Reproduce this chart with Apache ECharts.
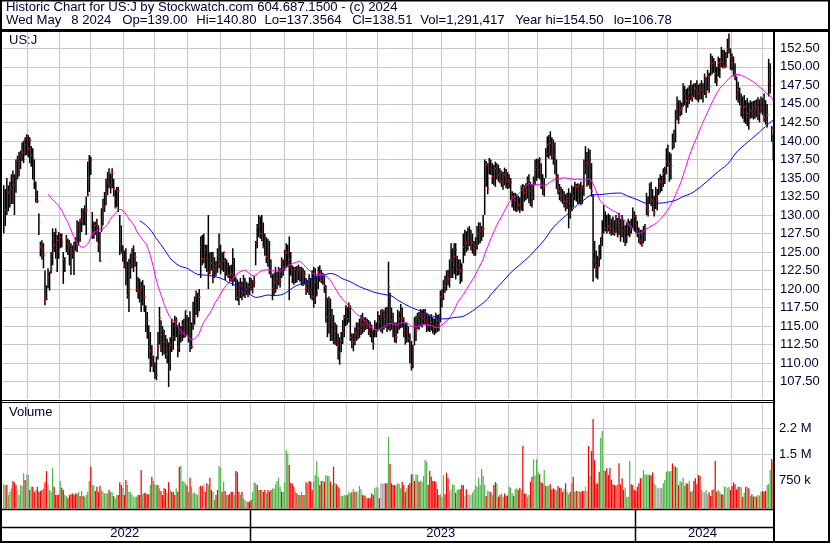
<!DOCTYPE html>
<html><head><meta charset="utf-8">
<script src="https://cdn.jsdelivr.net/npm/echarts@6/dist/echarts.min.js"></script>
<style>html,body{margin:0;padding:0;background:#fff}#c{width:830px;height:543px}</style>
</head><body><div id="c"></div>
<script>
// ---- data (daily bars, May 2022 - May 8 2024) ----
const highs = [
134,133.5,135,134,134.5,135.5,136,135.5,137.5,138,
138.5,138.7,139.8,140,140.5,140.9,140.8,140.5,139.3,139,
137.5,134.5,133.3,130.2,126.4,126.6,126.2,122.5,120.5,122.8,
122.3,125,128.2,127.7,128.2,127.3,127.7,127.5,127.5,125,
124.3,127.3,126.8,126.6,126.2,125.9,126.4,127,129.3,129.1,
129.5,130.9,130.9,131.3,132.5,137.2,138.1,137.9,130.4,129.1,
129.1,129.5,128.6,127.7,130.9,132.2,133.1,134.9,135.8,136.3,
135.6,136.3,134.9,133.4,133.8,133.8,130,128.6,125.9,125.2,
125.5,123.7,124.1,124.8,125.5,125.9,125,123.7,121.6,121.4,
121,121.2,120.5,117.8,116.9,115.1,114.2,112.4,111,110.1,
110.9,114.2,117.6,115.8,115,114.5,113.8,113.3,112.8,113.5,
116,115.5,116.4,116.2,115.2,115.5,115,115.8,116,117.1,
116.5,116.2,117,115.5,118.3,119,119.8,119.5,120,127.1,
127.3,127.5,126,126,130,125,125,125,124.3,123.8,
125.5,127.5,126,125,125,124.2,124,123.6,123.2,123.3,
125.5,124.2,121.6,121.3,121,121.5,121,121.9,121.5,121,
120.8,121.6,121.5,121.2,121.8,126.5,128.8,130,129.8,130,
129,127.5,127,126.8,126.5,124,122,122.2,123,122.3,
123,122.8,124.3,124,125.3,126.2,126,127.1,125,123.2,
123,123,123.1,123.3,123,123,122.8,122.5,121.5,121.2,
122,121.5,122.5,123,122.8,121.8,123,123.2,122.6,122.2,
121.8,120.5,118.8,119,118.7,117.3,116.5,115.5,115.2,114,
113.5,114.2,115.8,116.5,117.8,117.6,118.2,117.8,114,114,
114.8,115.5,115.5,116,116.5,116.8,116.2,116.2,116,115.8,
115.6,115.2,114.5,115.8,115.5,117,116.5,117.2,117.3,117.1,
117.5,117.6,123.7,119.5,117.5,116.8,115.5,115.5,117.2,117,
118,117.5,116.2,115.5,115.5,115,114,113,112.5,116.2,
116.4,116.8,116.9,117.3,117.2,117.3,117.3,116.8,116.5,116.4,
116.6,116.2,116,116.8,116.5,116.6,119.8,120,121.2,121.8,
122.5,122.6,124,126.2,125.5,126.2,126.2,124.5,124,124,
123.5,127.5,128,127.8,128.3,128.5,128,127.5,126.5,127,
128.5,129,129,128.5,130,137.5,137.3,137,137.7,137.5,
137,136.8,137.2,137,136.8,136.3,136,135.8,136.4,136.2,
135.8,135.5,135,133.2,133,133,132.8,132.6,132.4,134,
134.2,134,134.3,135.2,135.5,134.5,134.2,135.2,137.5,137.6,
137.6,137.8,137,135.5,135,139,140.6,140.8,141.3,140.5,
140.2,139.8,137.5,135.5,134.2,133.8,133.5,133.2,132.8,133,
133.6,133,134,133.8,134.5,134.2,134.3,134.2,134.5,134,
137.5,139.3,138.5,139,138.8,137,132.8,126.5,125.2,124.5,
126,127,129.3,131.3,130.5,130,130.2,130,129.5,129.8,
129.3,130,129.6,130.3,129.5,130,129.3,128.6,129,129.5,
129.2,129.5,131,130.5,130,129.2,128.3,128,128,128.5,
128.8,133,132.5,134.3,134.5,133.5,132.6,133.8,133.5,135,
135.5,135.3,136.3,136.5,139,139.5,138.5,138.3,141,141.5,
144.2,146,145.5,145.5,145.2,147.8,147.4,147,147.2,147.5,
148.2,147.6,147.8,147.8,148.2,147.6,147.8,148.2,147.8,149.1,
148.6,149.6,149.2,151.8,151.5,151.2,150.8,150,151.4,151.2,
152.7,152.3,152.3,152,153.8,154.5,152.5,151.8,151.4,150.5,
148.7,148,147.2,146.4,146,146.2,145.5,145.8,145.2,145.5,
145.3,145.4,145.5,145.6,145.9,145.6,146,145.8,146.4,145.5,
145,151.1,150.5,142,140.8];
const lows = [
127.5,128.5,130,130.5,131,131.5,131.5,130,133,134.8,
135.2,136.2,137.3,137,138,138.1,137.8,137,136.5,134.8,
133.5,131.7,131.6,127.3,124.4,124,122.8,117.8,118.5,120.1,
119.8,122.1,123.2,125,124.1,122.3,124.1,125.5,125.6,120.7,
122.3,125,124.6,123.2,121.9,124.1,121.9,125.2,125,125.9,
126.4,127.7,128.6,128.6,127.3,132.5,133.1,135.4,126.8,126.8,
127.3,126.4,125,123.7,127.7,128.6,130.4,131.3,132.7,133.6,
132.9,133.6,132.5,130.9,131.1,130.4,124.6,124.8,123.7,122.8,
120.5,118.7,116.9,121.4,122.8,122.3,123,119.6,118.7,118.2,
116.9,117.8,116.9,114.2,113.3,110.6,108.8,109.5,108.8,107.9,
107.7,110.5,112.5,111.5,111,111.2,110.6,110,106.78,109,
111.5,111.8,113,113.5,110.8,111.5,112.8,113,113.4,113.5,
113.8,112.8,111.5,111.9,114.5,115.2,116.5,116.2,117,121.5,
123.2,123.5,122.8,122.3,120,122,122.5,120.8,121.5,121.8,
122.2,122.8,122,122.5,122.3,121.2,121.8,121.5,121,121,
120.4,121,118.5,118.4,117.8,118.8,118.5,119,118.8,119.2,
118.9,119.2,119.8,119.4,120.2,123.2,125.5,127,126.8,126.5,
125.5,124.5,123.5,123,122,121.5,118.5,119.2,119.5,120,
120.5,120.2,121.5,121.8,122.5,122.8,123,118.5,121.8,120.8,
120.6,120.8,120.9,121.2,121,120.5,120.4,120.6,119.2,119.5,
119.2,118.7,118.5,117.5,118,119,120,121,120.8,120.6,
119.5,115.5,113.5,114,113,113,112.6,112.5,112.3,110.5,
109.8,111.5,112.6,113.5,115,115.2,115.5,113,112,111.6,
112.4,113,113.2,113.4,113.8,114,114.2,114.5,114.6,113.8,
113.5,112.8,111.8,113.5,113.5,114.3,114.5,114.2,114,114.5,
114.8,114.2,114.5,114.3,114.5,113.5,112.8,112.7,114,114.5,
114.7,114.8,113.5,112.5,112.8,112.8,110,109,109.3,112.4,
113,114.6,114.5,115,114.8,115.2,115.1,114.2,114.3,114.2,
114.4,114,113.8,114,114.2,114.3,115.5,117.5,118.5,119.5,
119.8,120.5,120.2,121.5,121.5,122,121.3,121.8,121.9,120.7,
121,123.5,124.5,125,125.2,125.8,125.2,124.8,124.5,124.5,
125.3,126,126.2,126.5,127,130,133.8,132.8,135.5,135.4,
134.2,134,133.8,134.8,134.5,134.3,133.8,133.4,134,133.6,
133.5,133.6,132,131,130.6,130.5,130.4,130.6,130.3,130.6,
130.5,131.8,132,132.2,131.6,131.2,131,132,134,134.6,
135,134.8,133.5,132.7,132.5,135,137.8,137.6,138,137.5,
136.8,135.5,133.5,132.8,132,131.8,131.5,131,130.5,130.8,
128.2,129.5,130.5,131,132,131.8,131.5,131.5,131.3,131.5,
132.6,135.5,133.8,134,133.5,132.5,121,122.8,121.5,121.3,
123,124,125.8,127.5,127.8,127.5,127.8,127.4,127.2,127.3,
127.2,127.6,127,127.3,126.4,127,126.3,125.8,126.2,127.2,
127,127.5,128.2,127.8,127.5,127,126.2,126,125.7,126.2,
126.5,130,129.8,131.5,131.2,130.5,129.8,130.8,130.6,132.7,
133,133.2,133.8,134.2,135.5,136.5,134.5,134.8,138.8,139,
139.8,142.8,142.3,143.3,143.5,144.6,144.8,143.8,144.5,145,
145.5,145.3,145.9,145.6,145.5,145.2,145.6,145.6,145.2,146.2,
145.8,146.8,146.5,148.8,149,149.2,147.8,147.4,148.7,148.5,
150,149.8,149.8,149.9,151.2,151.8,149.6,149.5,148.7,148.2,
145.5,145.2,144.8,143.3,143,142.5,142.3,142,141.5,143,
143.1,142.9,143,143.2,142.8,142.5,143.8,143.5,142.6,142.2,
141.8,146,146.4,139.9,137.36];
const closes = [
130.2,130.7,131,133.1,132,133.5,135,134,135.8,137.4,
137.1,138,138.5,140,139.5,140.6,139,140.1,138.1,137.7,
134.5,132.5,131.9,128.9,125.7,125.5,124.6,119.1,118.7,121.6,
122.3,122.8,125.5,125.9,127.7,126.6,126.5,127,126.4,124,
123.5,126.8,126.2,125.9,125,124.8,125.9,125.2,128.6,128.2,
129.3,130,130.7,130.2,130.7,132.7,135,137.4,127.7,128.9,
128.6,128.7,126,123.8,128.5,131,131.3,133.1,134.5,135.8,
134,135.8,133.7,131,132.2,133.3,126.6,125,124.3,123.2,
121.5,119.2,120,123.2,123.5,125.3,124.3,120,119.8,119.5,
120.2,120.4,119,116.1,115.8,114,111.7,110.4,109.7,108.3,
108.4,112.2,116.1,113.8,114.5,112.9,112,111.2,109.5,112.4,
115.8,113.5,114.9,115.8,112.2,114,114.4,115.1,114.3,117.1,
115.3,114,113.3,112.2,115.1,116.2,119.4,116.9,118.9,125.7,
124.1,124.8,125.3,124.1,122.3,122.8,123.5,123.7,122.6,123.2,
124.6,125,123.4,123.8,125,122.3,122.8,121.9,121.5,122.1,
121.9,121.7,119.5,118.9,119.8,120.5,119.6,121.2,120.1,119.9,
119.2,120.3,120.1,120.6,121,126.2,128.4,128.9,127.5,127.5,
125.7,126.2,124.4,125.2,122.6,122.1,120.1,120.8,121,121.4,
122.6,121.2,123.7,123,123.8,125,124.8,124,123,122.6,
121.4,122.6,122.1,122.6,122.4,122.6,121.9,122,120.1,120.8,
121.2,119.9,118.9,120.5,121,119.4,122.3,121.9,121.2,121.7,
120.5,118.8,116.2,118.7,116.2,115.3,113,114.3,112.9,112.4,
111.5,113,114.4,116.2,117.6,116,117.5,113.5,113.5,112.9,
114.4,114,115.1,114.7,115.8,115.3,115.2,115.1,114.9,114.4,
114.9,114,112.6,114.9,114.5,116.2,115.5,116.6,117.1,116.5,
116,116.4,120.3,116.5,115.8,115.3,114,113.6,114.9,116,
116.9,116,114.3,113.1,114.2,113.4,110.8,109.7,111.8,115.1,
114.4,116.2,116.5,116.7,116,116.5,116.7,115.8,115.1,115.1,
115.5,115.1,114.9,115.2,115.8,115.1,119,119.4,121.2,120.5,
121.2,121.4,122.6,123.9,122.6,124.4,125.3,122.6,123.3,122.6,
122.6,125.7,126.2,126.2,126.6,127,125.5,126.2,125.5,125.9,
127.5,127.3,127.9,127.3,128.2,134.5,136.8,133.6,137.2,136.3,
135.2,136.1,136.3,136.5,135.4,134.7,135.7,134.4,135.5,134.7,
135.2,134.7,134.4,132.5,131.8,132,130.9,131.4,131.2,133.8,
132.3,133,133.3,134.6,134.3,133.2,132.3,134.5,136.1,136.5,
136.1,137.5,134.3,133.2,133.8,138.5,139.5,138.4,139.7,138.2,
139.5,137.3,135.2,133.8,133.2,132.5,132.8,131.9,131.1,131.8,
132.3,130.7,133.4,132.5,134.1,133.9,133.4,134.1,133.6,133.9,
137,136.1,137.2,137,134.5,133.2,125.1,123.9,123.2,122.9,
124.4,125.9,127.5,129.6,128.2,127.8,128.5,128.2,127.5,128.2,
127.6,128.9,127.1,128.9,128,128.8,127.9,126.1,127,128.8,
127.7,128.5,130.2,129.8,128.8,127.9,126.8,126.6,126.1,127.5,
128.2,131.1,130.6,133.8,132,132,130.4,132.5,132,134,
134.6,134.3,135.6,135.8,137.2,138.3,136.9,136.6,139.6,140.5,
143,145.3,143,144.2,144.4,147.5,146.4,145.5,146,146.6,
146.9,146,146.6,147.1,146.9,146.4,147.2,146.9,146.4,148.7,
146.6,148.9,147.3,150.7,150.5,150.2,149.1,148.2,150.5,150,
150.7,150.5,150,150.2,152.4,153.6,151.4,150.5,149.6,148.9,
146.2,146.9,145.5,144.6,144.2,144.6,143.9,143.7,143,144.2,
143.9,144.5,144.2,144.6,144.2,143.7,145.3,144.6,143.2,143,
143.5,148,149.1,141.7,138.51];
// volume in thousands of shares
const volumesK = [
625,600,606,316,413,509,722,683,606,461,
316,606,580,945,751,925,896,461,558,558,
413,461,558,413,430,461,509,683,1012,606,
461,413,1090,558,316,316,330,722,529,461,
316,287,219,316,335,364,316,364,350,413,
287,432,287,268,316,413,722,1138,606,590,
432,558,413,587,461,413,364,364,364,461,
413,400,287,219,316,316,683,606,529,316,
751,606,413,400,335,268,268,268,316,316,
1041,335,384,364,335,340,606,848,722,625,
606,606,509,432,316,509,490,384,683,461,
413,413,316,509,413,1138,1157,722,700,654,
587,413,819,558,364,384,345,316,558,587,
570,625,413,654,606,819,461,413,171,316,
461,1157,1100,413,703,432,316,316,345,413,
413,316,1012,980,413,335,413,219,171,123,
123,123,171,413,683,660,606,461,461,461,
413,461,384,461,413,461,509,500,625,722,
819,558,413,413,683,1621,1525,1186,674,650,
558,413,364,316,316,413,316,316,683,654,
722,700,461,722,896,1302,848,606,722,722,
703,896,870,867,703,606,1138,654,625,558,
509,287,287,316,300,316,413,364,393,490,
413,413,413,577,480,316,300,297,219,219,
239,364,316,509,558,509,219,654,640,654,
654,654,1999,1215,654,606,606,606,654,640,
509,703,606,413,509,606,654,916,916,722,
916,900,703,722,
703,867,1331,1283,606,1012,848,722,722,700,
480,316,335,268,896,335,964,800,432,480,
625,610,384,461,480,480,606,606,287,480,
316,335,320,384,461,606,558,819,606,1070,
877,606,287,432,420,413,316,606,683,654,
268,316,364,268,364,287,300,558,529,364,
287,480,509,461,529,461,1738,364,350,268,
316,703,848,1351,877,1351,974,916,683,660,
1041,577,587,587,625,461,509,480,432,577,
529,510,413,480,654,413,335,413,654,848,
413,432,432,420,413,442,432,558,432,1738,
867,1592,2521,1331,654,640,993,1979,2173,1041,
1012,1090,896,1109,751,625,606,590,625,1235,
625,800,461,529,268,268,1302,625,610,461,
432,558,654,800,819,1041,916,896,916,896,
880,974,654,606,529,529,509,509,654,751,
993,1012,1000,1012,1235,1167,1138,1109,606,722,
683,819,587,654,640,722,413,432,722,800,
625,896,877,461,413,400,461,335,393,287,
461,480,1302,413,461,413,335,330,558,558,
529,558,461,577,683,625,480,558,558,540,
268,384,558,558,509,287,335,268,287,268,
316,300,413,432,420,432,606,625,1041,1360,1291];
// volume bar colour per day: g = up, r = down, n = unchanged
const volDirs =
"ggrgggrrrn"+"ggggrngrgr"+"rgrrrrgrrg"+"gggrrrrgrr"+"ggrrrrrrrg"+
"rgrggggrgg"+"rrrrgggggr"+"ggrggrrrgr"+"rggggnggrr"+"rgrrrrgrgg"+
"grgrrrrgrg"+"rrrgrrgggg"+"rgrgggggnr"+"rnrrgrrggr"+"rggrgrgrrr"+
"rgrrrgrggn"+"rrrgggrgrg"+"rrgrrrgggg"+"ggrggggrrr"+"rgrgrgrgrg"+
"rrrggggrrg"+"rgggrgrgrr"+"gggggrggrg"+"rgnggrrgrr"+"rrrgngrnnn"+
"rrgrrrrggg"+"grrrgrrrgr"+"ggrg"+
"ggggrrrrrr"+"rrgggrrrgn"+"ggrggrrrnr"+"gnnggggggg"+"ggrggrgrrg"+
"rrggrrrggg"+"rggrrgrrrg"+"grrggggrrr"+"grggrrrrgr"+"rrrgrggrgr"+
"grggrrrngr"+"grrrrrrggg"+"rrrrrrrrgr"+"rrrggggrrr"+"rrrrgggggr"+
"rrgnnnnggg"+"ggggrgrgrg"+"gggrrgrgrr"+"rrrgnngnrr"+"rgrrggrrgn"+
"ngrrrrrrgg"+"rgrgrgrrgr"+"gggrrrgggrr";
// month-start bar indices (vertical grid lines) and year starts
const monthStarts = [16,37,57,79,99,121,142,162,184,203,225,245,268,287,309,331,350,372,393,414,435,455,477,497];
const yearStarts = [162,414];
const yearLabels = ["2022","2023","2024"];
const priceTicks = [107.5,110,112.5,115,117.5,120,122.5,125,127.5,130,132.5,135,137.5,140,142.5,145,147.5,150,152.5];
const volLabelTicks = [750000,1500000,2250000];
const volGridTicks = [1500000,2250000];
const titleLine1 = "Historic Chart for US:J by Stockwatch.com 604.687.1500 - (c) 2024";
const titleLine2Parts = ["Wed May", "8 2024", "Op=139.00", "Hi=140.80", "Lo=137.3564", "Cl=138.51", "Vol=1,291,417", "Year hi=154.50", "lo=106.78"];

// ---- chart ----
const N = closes.length;
if (highs.length !== N || lows.length !== N || volumesK.length !== N || volDirs.length !== N) {
  throw new Error("length mismatch " + [highs.length, lows.length, N, volumesK.length, volDirs.length].join(","));
}
const cats = closes.map((_, i) => String(i));
const monthSet = new Set(monthStarts);
function sma(n) {
  return closes.map((_, i) => {
    if (i < n - 1) return null;
    let s = 0; for (let k = i - n + 1; k <= i; k++) s += closes[k];
    return s / n;
  });
}
const ma30 = sma(30), ma90 = sma(90);
const TXT = "#000033";
const GRIDC = "#c8c8c8";
const FONT = '"Liberation Sans", Arial, sans-serif';
const VOL_MIN = -75000, VOL_MAX = 2986000;
const volColor = {g: "#4cb848", r: "#ff0000", n: "#a8a8a8"};

const xAx = g => ({
  type: "category", gridIndex: g, data: cats, boundaryGap: true,
  axisLine: {show: false}, axisTick: {show: false}, axisLabel: {show: false},
  splitLine: {show: true, interval: (idx) => monthSet.has(idx), lineStyle: {color: GRIDC, width: 1}}
});

const option = {
  animation: false,
  backgroundColor: "#ffffff",
  grid: [
    {left: 3, top: 31, width: 771, height: 368},
    {left: 3, top: 403, width: 771, height: 105.5}
  ],
  xAxis: [xAx(0), xAx(1)],
  yAxis: [
    {type: "value", gridIndex: 0, position: "right", min: 105.16, max: 154.84, scale: true,
     axisLine: {show: false}, axisTick: {show: false, customValues: priceTicks},
     axisLabel: {customValues: priceTicks, formatter: v => v.toFixed(2), color: TXT, fontSize: 13, fontFamily: FONT, margin: 6},
     splitLine: {show: true, lineStyle: {color: GRIDC, width: 1}}},
    {type: "value", gridIndex: 1, position: "right", min: VOL_MIN, max: VOL_MAX,
     axisLine: {show: false}, axisTick: {show: false, customValues: volGridTicks},
     axisLabel: {customValues: volLabelTicks, color: TXT, fontSize: 13, fontFamily: FONT, margin: 5,
       formatter: v => v >= 1e6 ? (Math.floor(v / 1e5) / 10) + " M" : (v / 1000) + " k"},
     splitLine: {show: true, lineStyle: {color: GRIDC, width: 1}}}
  ],
  series: [
    {
      type: "custom", xAxisIndex: 0, yAxisIndex: 0, z: 3,
      data: closes.map((c, i) => [i, highs[i], lows[i], c]),
      encode: {x: 0, y: [1, 2, 3]},
      renderItem: (params, api) => {
        const i = api.value(0);
        const hi = api.coord([i, api.value(1)]);
        const lo = api.coord([i, api.value(2)]);
        const cl = api.coord([i, api.value(3)]);
        const w = 1.5;
        return {type: "group", children: [
          {type: "rect", shape: {x: hi[0] - w / 2, y: hi[1], width: w, height: Math.max(1, lo[1] - hi[1])}, style: {fill: "#000"}},
          {type: "rect", shape: {x: cl[0] - 0.3, y: cl[1] - 0.8, width: 1.6, height: 1.6}, style: {fill: "#ff0000"}}
        ]};
      }
    },
    {type: "line", xAxisIndex: 0, yAxisIndex: 0, data: ma30, showSymbol: false, z: 4,
     lineStyle: {color: "#ff00ff", width: 1}, itemStyle: {color: "#ff00ff"}},
    {type: "line", xAxisIndex: 0, yAxisIndex: 0, data: ma90, showSymbol: false, z: 4,
     lineStyle: {color: "#0000ff", width: 1}, itemStyle: {color: "#0000ff"}},
    {
      type: "custom", xAxisIndex: 1, yAxisIndex: 1, z: 3,
      data: volumesK.map((v, i) => [i, v * 1000]),
      encode: {x: 0, y: 1},
      renderItem: (params, api) => {
        const i = api.value(0);
        const top = api.coord([i, api.value(1)]);
        const base = api.coord([i, VOL_MIN]);
        const w = 1.25;
        return {type: "rect", shape: {x: top[0] - w / 2, y: top[1], width: w, height: base[1] - top[1]},
                style: {fill: volColor[volDirs[i]]}};
      }
    }
  ]
};

const chart = echarts.init(document.getElementById("c"), null, {renderer: "canvas"});
chart.setOption(option);

const px = i => chart.convertToPixel({xAxisIndex: 0}, i);
const bw = px(1) - px(0);
const edge = i => px(i) - bw / 2;
const bounds = [edge(0), ...yearStarts.map(edge), edge(N - 1) + bw];

const TITLE_FONT = "13.15px " + FONT;
const line = (x1, y1, x2, y2, w) => ({type: "line", silent: true, z: 100,
  shape: {x1, y1, x2, y2}, style: {stroke: "#000", lineWidth: w}});
const text = (t, x, y, extra) => ({type: "text", silent: true, z: 101, x, y,
  style: Object.assign({text: t, font: "13px " + FONT, fill: TXT, verticalAlign: "top", textVerticalAlign: "top"}, extra || {})});

const graphics = [
  {type: "rect", silent: true, z: 100, shape: {x: 1, y: 0.5, width: 828, height: 541.5},
   style: {fill: "none", stroke: "#000", lineWidth: 2}},
  line(0, 30.5, 830, 30.5, 3),
  line(774, 30, 774, 543, 2),
  line(0, 400.5, 774, 400.5, 1),
  line(0, 402.5, 774, 402.5, 1),
  line(0, 509.5, 774, 509.5, 1.5),
  line(0, 527.5, 774, 527.5, 1.5),
  text(titleLine1, 6, 0.8, {font: TITLE_FONT}),
  text("US:J", 9, 34.2),
  text("Volume", 9, 405.8)
];
// second header line: fields laid out in columns as in the reference
const line2X = [6, 71.2, 122.2, 196.2, 264.5, 352.2, 420.2, 515.2, 613.8];
titleLine2Parts.forEach((t, k) => graphics.push(text(t, line2X[k], 14.2, {font: TITLE_FONT})));
yearStarts.forEach((s, k) => {
  const x = Math.round(bounds[k + 1]) + 0.5;
  graphics.push(line(x, 509, x, 542, 1.5));
});
yearLabels.forEach((lab, k) => {
  const cx = (bounds[k] + bounds[k + 1]) / 2 - 2;
  graphics.push(text(lab, cx, 526.8, {align: "center", textAlign: "center"}));
});
chart.setOption({graphic: graphics});
</script>
</body></html>
